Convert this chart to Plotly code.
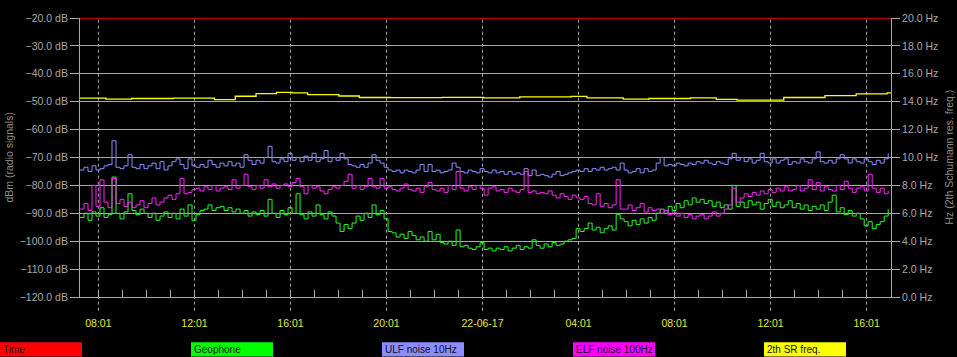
import pandas as pd
import plotly.graph_objects as go

# ---------------- data ----------------
start_time = "2017-06-21 07:15"
n_points = 203          # one reading every 10 minutes
x_start = "2017-06-21 07:15"
x_end = "2017-06-22 17:02"

ulf_noise_10hz = [
    -74.5, -73.5, -75, -73, -74.5, -74, -73, -72.5, -64, -73.5,
    -74, -73, -69, -73.5, -74, -72.5, -74, -73, -72, -74,
    -71.5, -74.5, -73, -71.5, -70.5, -72.5, -74, -70.5, -73, -73.5,
    -72.5, -73.5, -71, -72.5, -73.5, -72, -73, -71.5, -73, -72,
    -73.5, -69, -71, -72.5, -71, -72, -70, -66, -71.5, -72,
    -70.5, -71.5, -68.5, -71, -70, -71.5, -69.5, -71, -68.5, -71.5,
    -70.5, -67.5, -71.5, -70, -71, -68.5, -70.5, -72.5,
    -73, -73.5, -72.5, -73.5, -72, -69, -71, -72, -73.5, -74.5,
    -75, -74.5, -75.5, -74.5, -75, -75.5, -74.5, -72.5, -75, -72.5,
    -75, -74.5, -75.5, -75, -74.5, -72, -73.5, -75, -75.5, -74.5,
    -75, -75.5, -74, -75, -75.5, -74.5, -75.5, -75, -76, -75,
    -76, -75.5, -76, -74, -76.5, -74.5, -76.5, -76, -76.5, -77,
    -76, -75, -76.5, -76, -75.5, -75, -74.5, -75, -74, -75,
    -74, -74.5, -73.5, -74.5, -74, -73.5, -74.5, -72,
    -74.5, -75.5, -75, -74, -75.5, -74, -75, -74.5, -72, -70,
    -73, -72.5, -73, -72, -72.5, -73, -72, -72.5, -71.5, -72,
    -71, -72, -72.5, -71.5, -72, -72.5, -70.5, -68.5, -71, -70,
    -71.5, -70.5, -72, -71, -68.5, -71.5, -72, -70.5, -72, -71,
    -70.5, -72.5, -71.5, -72, -70.5, -71.5, -72, -70.5, -68, -71.5,
    -72, -71, -72, -70.5, -69, -70.5, -72, -70.5, -71.5, -72,
    -70.5, -71.5, -72.5, -71, -72, -70.5, -68.5,
]

elf_noise_100hz = [
    -88.5, -86.5, -89, -80, -87.5, -78, -86, -88, -77.5, -86.5,
    -85, -87.5, -86, -88, -87, -85.5, -88, -86.5, -84.5, -87,
    -86, -84.5, -83.5, -85, -83, -77.5, -83, -82.5, -81.5, -81,
    -82, -80.5, -81.5, -80, -82, -81, -80.5, -81.5, -78, -81,
    -80, -76, -80.5, -81.5, -80, -81, -78, -80.5, -79.5, -81,
    -80, -79.5, -80.5, -79, -77.5, -80.5, -83, -80, -81, -80.5,
    -82, -83, -81.5, -80.5, -81, -80, -78.5, -76,
    -81, -80, -81.5, -80.5, -77.5, -80.5, -81, -77.5, -81, -80.5,
    -81.5, -82, -81, -79.5, -81.5, -82, -81, -82.5, -80.5, -79,
    -81.5, -82, -81, -82.5, -80, -81.5, -75, -81, -82, -80.5,
    -81.5, -80, -81, -83.5, -81, -80.5, -82, -81.5, -82.5, -81,
    -82, -82.5, -81.5, -75, -82.5, -82, -83, -82.5, -83, -82,
    -83.5, -84.5, -83, -84, -85, -83.5, -84.5, -85, -84, -86.5,
    -87, -83, -87.5, -86.5, -88, -87, -78, -88.5,
    -88.5, -87, -89, -88, -86.5, -89.5, -88, -89, -88.5, -90,
    -89, -90.5, -89.5, -91, -90, -91.5, -90.5, -92, -91, -90.5,
    -92, -91, -89.5, -91, -90, -88.5, -87, -81, -86, -84.5,
    -83, -84, -82.5, -83.5, -82, -83, -81.5, -82.5, -81, -82,
    -80.5, -82, -81.5, -80, -82, -81, -78, -81.5, -79, -82,
    -80.5, -81.5, -82, -80, -81.5, -78.5, -81, -82.5, -81, -80.5,
    -82, -76, -81, -82.5, -81, -83, -82,
]

geophone = [
    -91.5, -90, -92.5, -89.5, -91, -88, -91.5, -90.5, -77, -90,
    -92, -89.5, -83, -89, -90.5, -88.5, -90, -91.5, -90, -92.5,
    -91, -89.5, -91.5, -90, -92, -88.5, -91, -87, -92.5, -90.5,
    -89, -88.5, -87, -89, -88, -87.5, -89, -88, -89.5, -88.5,
    -90, -89, -91, -89.5, -90.5, -89, -91, -85, -90, -91.5,
    -89, -90.5, -88, -90, -83, -90.5, -92, -89.5, -91, -87,
    -90.5, -92, -89.5, -91, -93.5, -96.5, -94, -95.5,
    -93.5, -91, -92.5, -90, -91.5, -87, -90.5, -89, -92, -96.5,
    -97, -98.5, -97.5, -99, -96.5, -98, -99.5, -98.5, -100, -96.5,
    -99.5, -97.5, -100.5, -101, -100, -101.5, -96, -102, -101.5, -102.5,
    -103, -102, -100.5, -103, -102.5, -103.5, -102.5, -103, -102, -103.5,
    -102.5, -101.5, -103, -102, -102.5, -99.5, -101.5, -102.5, -101, -102,
    -100.5, -101.5, -101, -100, -99.5, -99, -95.5, -96.5, -95.5, -93.5,
    -96, -95, -97, -95.5, -94.5, -96, -90.5, -92,
    -93, -94.5, -92.5, -94, -92, -93.5, -91.5, -92.5, -90, -88.5,
    -90, -87.5, -89, -86.5, -88, -85.5, -87, -84.5, -86, -85,
    -86.5, -85.5, -87.5, -86, -88, -87, -88.5, -80, -87.5, -86,
    -88, -85.5, -87, -86, -88.5, -86.5, -85, -87.5, -86, -88,
    -87, -85.5, -88, -86.5, -88.5, -87, -89, -87.5, -88.5, -87,
    -89, -86, -83.5, -89.5, -88, -90.5, -89, -91, -90, -92,
    -94.5, -93, -95.5, -94, -93, -91, -88.5,
]

sr_times = [
    "2017-06-21 07:15", "2017-06-21 08:20", "2017-06-21 09:24", "2017-06-21 11:08",
    "2017-06-21 12:51", "2017-06-21 13:43", "2017-06-21 14:35", "2017-06-21 15:26",
    "2017-06-21 16:05", "2017-06-21 16:44", "2017-06-21 18:02", "2017-06-21 18:53",
    "2017-06-21 20:11", "2017-06-21 22:20", "2017-06-22 00:04", "2017-06-22 01:34",
    "2017-06-22 03:43", "2017-06-22 04:22", "2017-06-22 05:53", "2017-06-22 06:57",
    "2017-06-22 08:41", "2017-06-22 09:45", "2017-06-22 10:37", "2017-06-22 11:55",
    "2017-06-22 12:34", "2017-06-22 14:17", "2017-06-22 15:35", "2017-06-22 16:52",
    "2017-06-22 17:02",
]
sr_freq_hz = [
    14.25, 14.18, 14.23, 14.25, 14.15, 14.39, 14.58, 14.67, 14.63, 14.51,
    14.41, 14.30, 14.29, 14.31, 14.28, 14.34, 14.38, 14.27, 14.18, 14.23,
    14.27, 14.16, 14.11, 14.12, 14.30, 14.44, 14.56, 14.63, 14.62,
]

time_line_x = [x_start, x_end]
time_line_y = [-20, -20]

major_tick_times = [
    "2017-06-21 08:01", "2017-06-21 12:01", "2017-06-21 16:01", "2017-06-21 20:01",
    "2017-06-22 00:01", "2017-06-22 04:01", "2017-06-22 08:01", "2017-06-22 12:01",
    "2017-06-22 16:01",
]
major_tick_labels = ["08:01", "12:01", "16:01", "20:01", "22-06-17",
                     "04:01", "08:01", "12:01", "16:01"]

legend_names = ["Time", "Geophone", "ULF noise 10Hz", "ELF noise 100Hz", "2th SR freq."]
legend_colors = ["#ff0000", "#00ff00", "#8c8cff", "#ff00ff", "#ffff00"]

# ---------------- figure ----------------
times = pd.date_range(start_time, periods=n_points, freq="10min")
hour_ticks = pd.date_range("2017-06-21 08:01", "2017-06-22 16:01", freq="1h")
hour_text = []
for t in hour_ticks:
    s = t.strftime("%Y-%m-%d %H:%M")
    hour_text.append(major_tick_labels[major_tick_times.index(s)] if s in major_tick_times else "")

W, H = 957, 357
L, R, T, B = 80, 891, 13, 297
pw, ph = R - L, B - T

def px(xp):
    return (xp - L) / pw

def py(yp):
    return (B - yp) / ph

fig = go.Figure()
fig.add_trace(go.Scatter(x=time_line_x, y=time_line_y, mode="lines",
                         line=dict(color="#c00000", width=2), name="Time"))
fig.add_trace(go.Scatter(x=times, y=geophone, mode="lines", line_shape="hv",
                         line=dict(color="#22ff22", width=1), name="Geophone"))
fig.add_trace(go.Scatter(x=times, y=ulf_noise_10hz, mode="lines", line_shape="hv",
                         line=dict(color="#8c8cff", width=1), name="ULF noise 10Hz"))
fig.add_trace(go.Scatter(x=times, y=elf_noise_100hz, mode="lines", line_shape="hv",
                         line=dict(color="#ff22ff", width=1), name="ELF noise 100Hz"))
fig.add_trace(go.Scatter(x=sr_times, y=sr_freq_hz, mode="lines", line_shape="hv",
                         line=dict(color="#ffff00", width=1.3), name="2th SR freq.",
                         yaxis="y2"))

gray = "#a8a8a8"
font_family = "Liberation Sans, Arial, sans-serif"

shapes = []
for t in major_tick_times:
    shapes.append(dict(type="line", xref="x", yref="paper", x0=t, x1=t,
                       y0=py(311), y1=1, layer="below",
                       line=dict(color=gray, width=1, dash="3px,3px")))

legend_x = [0, 191, 382, 573, 764]
annotations = []
for xl, name, col in zip(legend_x, legend_names, legend_colors):
    shapes.append(dict(type="rect", xref="paper", yref="paper",
                       x0=px(xl), x1=px(xl + 82), y0=py(357.5), y1=py(343),
                       fillcolor=col, line=dict(width=0), layer="above"))
    annotations.append(dict(xref="paper", yref="paper", x=px(xl + 1), y=py(350.5),
                            text=name, showarrow=False, xanchor="left", yanchor="middle",
                            font=dict(family=font_family, size=10, color="#101010")))

annotations.append(dict(xref="paper", yref="paper", x=px(8), y=0.5,
                        text="dBm (radio signals)", textangle=-90, showarrow=False,
                        xanchor="center", yanchor="middle",
                        font=dict(family=font_family, size=10.5, color="#8c8c8c")))
annotations.append(dict(xref="paper", yref="paper", x=px(948), y=0.5,
                        text="Hz (2th Schumann res. freq.)", textangle=-90, showarrow=False,
                        xanchor="center", yanchor="middle",
                        font=dict(family=font_family, size=10.5, color="#8c8c8c")))

fig.update_layout(
    width=W, height=H, autosize=False,
    margin=dict(l=L, r=W - R, t=T, b=H - B, pad=0),
    paper_bgcolor="black", plot_bgcolor="black",
    showlegend=False,
    shapes=shapes, annotations=annotations,
    xaxis=dict(
        type="date", range=[x_start, x_end],
        tickmode="array", tickvals=list(hour_ticks), ticktext=hour_text,
        ticks="inside", ticklen=7, tickcolor=gray, tickwidth=1,
        showgrid=False, zeroline=False,
        showline=True, linecolor=gray, linewidth=1,
        tickfont=dict(family=font_family, size=10.5, color="#e6e640"),
        ticklabelstandoff=16,
    ),
    yaxis=dict(
        range=[-120, -20], tickmode="linear", tick0=-120, dtick=10,
        tickformat=".1f", ticksuffix=" dB",
        ticks="outside", ticklen=9, tickcolor=gray,
        showgrid=True, gridcolor=gray, gridwidth=1, zeroline=False,
        showline=True, linecolor=gray, linewidth=1,
        tickfont=dict(family=font_family, size=10.5, color=gray),
    ),
    yaxis2=dict(
        range=[0, 20], tickmode="linear", tick0=0, dtick=2,
        tickformat=".1f", ticksuffix=" Hz",
        overlaying="y", side="right",
        ticks="outside", ticklen=8, tickcolor=gray,
        showgrid=False, zeroline=False,
        showline=True, linecolor=gray, linewidth=1,
        tickfont=dict(family=font_family, size=10.5, color=gray),
    ),
)

fig.write_html(
    "out.html",
    config={"displayModeBar": False},
    post_script="document.body.style.margin='0';document.body.style.background='black';"
                "document.documentElement.style.background='black';",
)
